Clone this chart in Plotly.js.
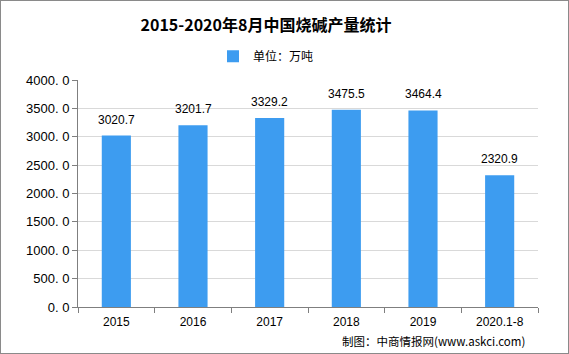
<!DOCTYPE html>
<html><head><meta charset="utf-8">
<script src="https://cdn.plot.ly/plotly-3.0.1.min.js"></script>
<style>
html,body{margin:0;padding:0;background:#fff;}
#wrap{width:567px;height:352px;border:1px solid #8a8a8a;}
#chart{width:567px;height:352px;}
</style></head>
<body><div id="wrap"><div id="chart"></div></div>
<script>
const categories = ["2015","2016","2017","2018","2019","2020.1-8"];
const values = [3020.7, 3201.7, 3329.2, 3475.5, 3464.4, 2320.9];
const valueLabels = ["3020.7","3201.7","3329.2","3475.5","3464.4","2320.9"];
const yTickVals = [0,500,1000,1500,2000,2500,3000,3500,4000];
const yTickText = ["0. 0","500. 0","1000. 0","1500. 0","2000. 0","2500. 0","3000. 0","3500. 0","4000. 0"];
const seriesName = "单位：万吨";
const titleText = "2015-2020年8月中国烧碱产量统计";
const sourceText = "制图：中商情报网(www.askci.com)";

const trace = {
  type: "bar",
  x: categories,
  y: values,
  name: seriesName,
  marker: {color: "#3d9cf0"},
  showlegend: true,
  hoverinfo: "none"
};

// on a category axis, annotation x is the category index
const labelAnnotations = categories.map((c, i) => ({
  x: i, y: values[i], xref: "x", yref: "y",
  text: valueLabels[i], showarrow: false,
  yanchor: "bottom", yshift: 7,
  font: {family: "Liberation Sans, Arial, sans-serif", size: 12, color: "#000"}
}));

const layout = {
  width: 567, height: 352,
  margin: {l: 77, r: 30, t: 79, b: 46},
  paper_bgcolor: "#fff", plot_bgcolor: "#fff",
  bargap: 0.62,
  title: {text: titleText, x: 265/567, xanchor: "center", y: 0.93, yanchor: "middle",
    font: {family: "Noto Sans CJK SC, sans-serif", size: 16, color: "#000", weight: "bold"}},
  showlegend: true,
  legend: {orientation: "h", x: 0.5 - 42/460, xanchor: "center", y: 1.105, yanchor: "middle",
    itemwidth: 30,
    font: {family: "Noto Sans CJK SC, sans-serif", size: 12, color: "#000"}},
  xaxis: {
    type: "category",
    categoryorder: "array", categoryarray: categories,
    tickson: "boundaries",
    ticks: "outside", ticklen: 5, tickcolor: "#7f7f7f",
    ticklabelstandoff: 4,
    showline: true, linecolor: "#7f7f7f", linewidth: 1,
    showgrid: false,
    tickfont: {family: "Liberation Sans, Arial, sans-serif", size: 12, color: "#000"}
  },
  yaxis: {
    range: [0, 4000],
    tickvals: yTickVals, ticktext: yTickText,
    ticks: "outside", ticklen: 5, tickcolor: "#7f7f7f",
    showline: true, linecolor: "#7f7f7f", linewidth: 1,
    showgrid: true, gridcolor: "#d9d9d9", gridwidth: 1,
    zeroline: false,
    tickfont: {family: "Liberation Sans, Arial, sans-serif", size: 13, color: "#000"}
  },
  annotations: labelAnnotations.concat([{
    text: sourceText, xref: "paper", yref: "paper", x: 0.975, y: -0.15,
    xanchor: "right", yanchor: "middle", showarrow: false,
    font: {family: "Noto Sans CJK SC, sans-serif", size: 11.5, color: "#000"}
  }])
};

Plotly.newPlot("chart", [trace], layout, {displayModeBar: false, staticPlot: true});
</script></body></html>
